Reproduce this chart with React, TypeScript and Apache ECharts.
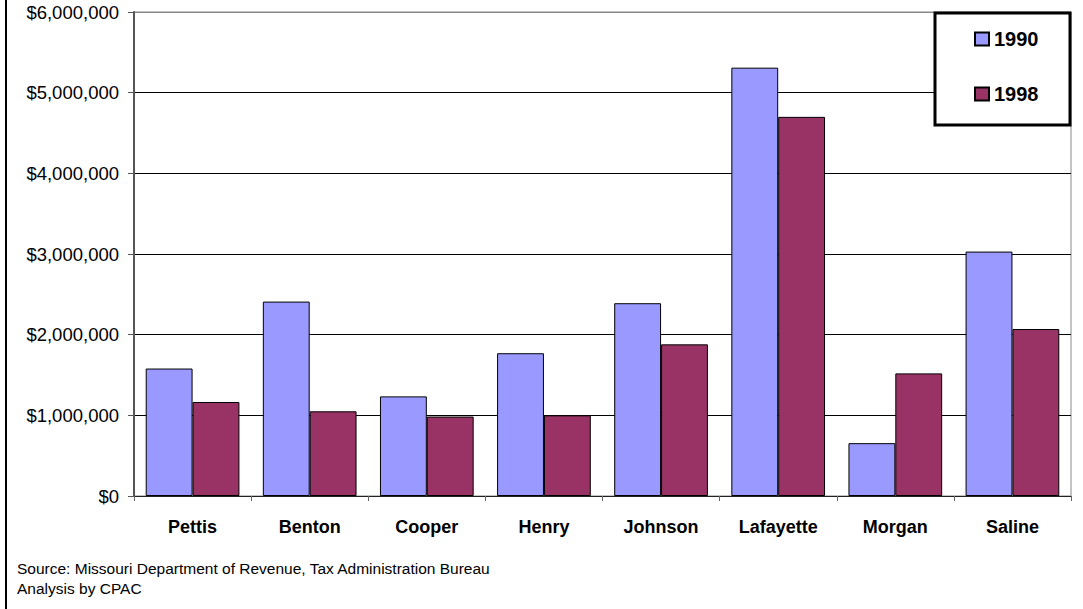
import React, { useEffect, useRef } from "react";
import * as echarts from "echarts";

const categories = ["Pettis", "Benton", "Cooper", "Henry", "Johnson", "Lafayette", "Morgan", "Saline"];
const values1990 = [1580000, 2410000, 1235000, 1770000, 2390000, 5310000, 655000, 3030000];
const values1998 = [1165000, 1050000, 985000, 1000000, 1880000, 4700000, 1520000, 2070000];
const seriesNames = ["1990", "1998"];
const sourceLines = [
  "Source: Missouri Department of Revenue, Tax Administration Bureau",
  "Analysis by CPAC",
];

export default function App() {
  const ref = useRef<HTMLDivElement>(null);
  useEffect(() => {
    document.body.style.margin = "0";
    const chart = echarts.init(ref.current!, null, { renderer: "svg" });
    const font = "'Liberation Sans', Arial, sans-serif";
    chart.setOption({
      animation: false,
      backgroundColor: "#fff",
      textStyle: { fontFamily: font },
      grid: {
        left: 134,
        top: 12,
        right: 12,
        bottom: 113,
        show: true,
        borderColor: "#888",
        borderWidth: 1,
        backgroundColor: "transparent",
      },
      xAxis: {
        type: "category",
        data: categories,
        axisLine: { lineStyle: { color: "#222", width: 1 } },
        axisTick: { show: true, length: 5, lineStyle: { color: "#666" } },
        axisLabel: { fontSize: 18, fontWeight: "bold", color: "#000", margin: 22, fontFamily: font },
      },
      yAxis: {
        type: "value",
        min: 0,
        max: 6000000,
        interval: 1000000,
        axisLine: { show: true, lineStyle: { color: "#555", width: 2 } },
        axisTick: { show: true, length: 6, lineStyle: { color: "#555" } },
        axisLabel: {
          fontSize: 18.5,
          color: "#000",
          margin: 15,
          fontFamily: font,
          formatter: (v: number) => "$" + v.toLocaleString("en-US"),
        },
        splitLine: {
          show: true,
          lineStyle: { color: ["#000", "#000", "#000", "#000", "#000", "#000", "#888"], width: 1 },
        },
      },
      legend: {
        orient: "vertical",
        left: 969,
        top: 24,
        itemWidth: 14,
        itemHeight: 13,
        itemGap: 35,
        icon: "rect",
        data: seriesNames,
        textStyle: { fontSize: 20, fontWeight: "bold", color: "#000", fontFamily: font, padding: [10, 0, 0, 0] },
        z: 10,
      },
      graphic: [
        {
          type: "rect",
          shape: { x: 935, y: 13, width: 135, height: 112 },
          style: { fill: "#fff", stroke: "#000", lineWidth: 3 },
          z: 5,
        },
        {
          type: "line",
          shape: { x1: 6, y1: 0, x2: 6, y2: 609 },
          style: { stroke: "#000", lineWidth: 2 },
        },
        {
          type: "text",
          x: 17,
          y: 560,
          style: { text: sourceLines[0], fontSize: 15.5, fill: "#000", fontFamily: font },
        },
        {
          type: "text",
          x: 17,
          y: 580,
          style: { text: sourceLines[1], fontSize: 15.5, fill: "#000", fontFamily: font },
        },
      ],
      series: [
        {
          name: seriesNames[0],
          type: "bar",
          data: values1990,
          barGap: "0%",
          barCategoryGap: "20%",
          itemStyle: { color: "#9999FF", borderColor: "#000", borderWidth: 1 },
        },
        {
          name: seriesNames[1],
          type: "bar",
          data: values1998,
          itemStyle: { color: "#993366", borderColor: "#000", borderWidth: 1 },
        },
      ],
    });
    return () => chart.dispose();
  }, []);
  return <div ref={ref} style={{ width: 1083, height: 609 }} />;
}
